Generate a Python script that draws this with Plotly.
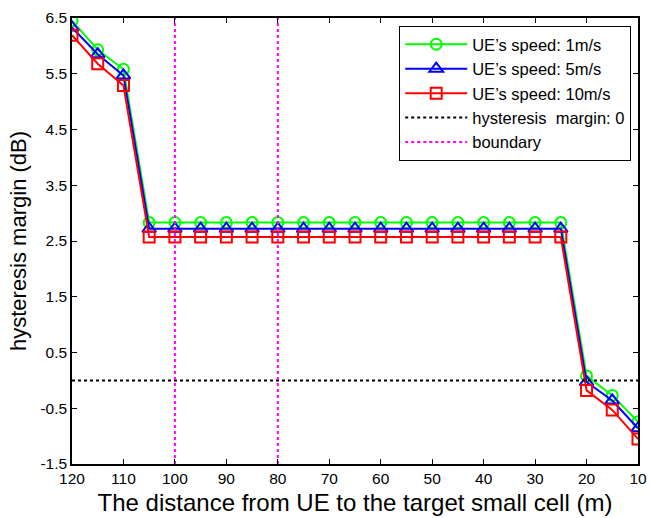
import plotly.graph_objects as go

distance = [120, 115, 110, 105, 100, 95, 90, 85, 80, 75, 70, 65, 60, 55, 50, 45, 40, 35, 30, 25, 20, 15, 10]
speed_1 = [6.45, 5.93, 5.58] + [2.83] * 17 + [0.08, -0.27, -0.74]
speed_5 = [6.33, 5.85, 5.47] + [2.72] * 17 + [-0.03, -0.36, -0.86]
speed_10 = [6.19, 5.68, 5.29] + [2.57] * 17 + [-0.18, -0.53, -1.05]
zero_x = [120, 10]
zero_y = [0, 0]
boundary_x = [100, 100, None, 80, 80]
boundary_y = [-1.5, 6.5, None, -1.5, 6.5]
x_ticks = [120, 110, 100, 90, 80, 70, 60, 50, 40, 30, 20, 10]
y_ticks = [-1.5, -0.5, 0.5, 1.5, 2.5, 3.5, 4.5, 5.5, 6.5]

FONT = "Arial, Liberation Sans, sans-serif"

fig = go.Figure()
fig.add_trace(go.Scatter(x=distance, y=speed_1, mode="lines+markers", name="UE’s speed: 1m/s",
                         line=dict(color="#00FF00", width=2),
                         marker=dict(symbol="circle-open", size=11, color="#00FF00", line=dict(width=2))))
fig.add_trace(go.Scatter(x=distance, y=speed_5, mode="lines+markers", name="UE’s speed: 5m/s",
                         line=dict(color="#0000FF", width=2),
                         marker=dict(symbol="triangle-up-open", size=12, color="#0000FF", line=dict(width=2))))
fig.add_trace(go.Scatter(x=distance, y=speed_10, mode="lines+markers", name="UE’s speed: 10m/s",
                         line=dict(color="#FF0000", width=2),
                         marker=dict(symbol="square-open", size=11, color="#FF0000", line=dict(width=2))))
fig.add_trace(go.Scatter(x=zero_x, y=zero_y, mode="lines", name="hysteresis  margin: 0",
                         line=dict(color="black", width=2, dash="dot")))
fig.add_trace(go.Scatter(x=boundary_x, y=boundary_y, mode="lines", name="boundary",
                         line=dict(color="#FF00FF", width=2, dash="dot")))

axis_common = dict(showgrid=False, zeroline=False, showline=True, linecolor="black", linewidth=1.5,
                   mirror="ticks", ticks="inside", ticklen=5, tickcolor="black", tickwidth=1,
                   automargin=False,
                   tickfont=dict(family=FONT, size=15.5, color="black"))

fig.update_xaxes(range=[120, 10], tickvals=x_ticks,
                 title=dict(text="The distance from UE to the target small cell (m)",
                            font=dict(family=FONT, size=24, color="black"), standoff=8),
                 **axis_common)
fig.update_yaxes(range=[-1.5, 6.5], tickvals=y_ticks, ticktext=[str(v) for v in y_ticks],
                 title=dict(text="hysteresis margin (dB)",
                            font=dict(family=FONT, size=22, color="black"), standoff=8),
                 **axis_common)

fig.update_layout(
    width=649, height=518,
    margin=dict(l=72, r=11, t=18, b=54),
    paper_bgcolor="white", plot_bgcolor="white",
    font=dict(family=FONT, color="black"),
    legend=dict(x=0.988, y=0.982, xanchor="right", yanchor="top",
                bgcolor="white", bordercolor="black", borderwidth=1,
                font=dict(family=FONT, size=16.5, color="black"),
                itemwidth=62, tracegroupgap=0),
    showlegend=True,
)

fig.write_html("out.html", config={"displayModeBar": False},
               post_script="document.body.style.margin='0';document.body.style.overflow='hidden';")
